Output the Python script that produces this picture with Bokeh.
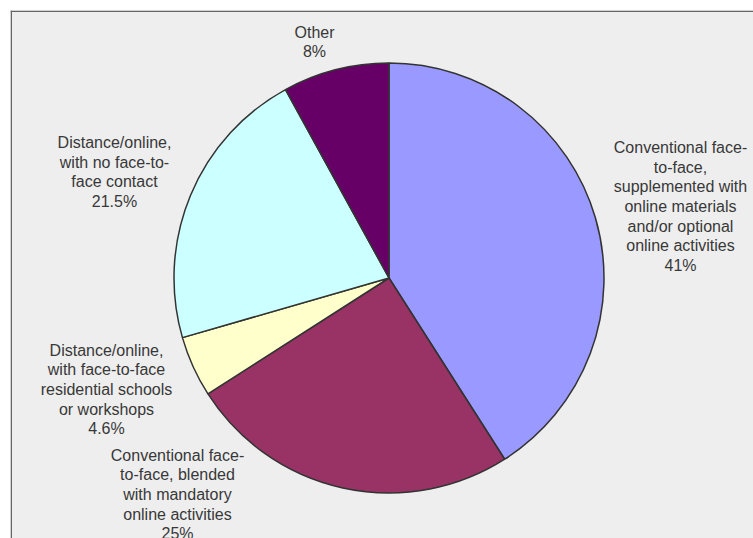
import numpy as np
from bokeh.plotting import figure
from bokeh.models import Range1d, Span, ColumnDataSource
from bokeh.core.properties import value
from bokeh.embed import file_html
from bokeh.resources import INLINE

# ---- data ----
categories = [
    "Conventional face-\nto-face,\nsupplemented with\nonline materials\nand/or optional\nonline activities",
    "Conventional face-\nto-face, blended\nwith mandatory\nonline activities",
    "Distance/online,\nwith face-to-face\nresidential schools\nor workshops",
    "Distance/online,\nwith no face-to-\nface contact",
    "Other",
]
percent_labels = ["41%", "25%", "4.6%", "21.5%", "8%"]
values = [41.0, 25.0, 4.6, 21.5, 8.0]
colors = ["#9999FF", "#993366", "#FFFFCC", "#CCFFFF", "#660066"]

# ---- layout (pixel-like data units) ----
cx, cy, r = 388.5, -277.5, 215
label_x = [680, 177, 106, 114, 314]
label_y = [-206, -494, -389, -171.5, -41.5]

vals = np.array(values)
frac = vals / vals.sum()
cum_end = np.cumsum(frac)
cum_start = cum_end - frac
start = np.pi / 2 - 2 * np.pi * cum_end
end = np.pi / 2 - 2 * np.pi * cum_start

p = figure(width=753, height=538, output_backend="svg", toolbar_location=None,
           x_axis_type=None, y_axis_type=None,
           x_range=Range1d(10, 753), y_range=Range1d(-538, -10),
           min_border_left=10, min_border_top=10, min_border_right=0, min_border_bottom=0)
p.background_fill_color = "#eeeeee"
p.border_fill_color = "white"
p.outline_line_color = None
p.xgrid.visible = False
p.ygrid.visible = False

src = ColumnDataSource(dict(start=start, end=end, color=colors))
p.wedge(x=cx, y=cy, radius=r, start_angle="start", end_angle="end", source=src,
        fill_color="color", line_color="#333333", line_width=1.5)

texts = [c + "\n" + pl for c, pl in zip(categories, percent_labels)]
lsrc = ColumnDataSource(dict(x=label_x, y=label_y, t=texts))
p.text(x="x", y="y", text="t", source=lsrc, text_align="center", text_baseline="middle",
       text_font=value("Liberation Sans"), text_font_size="16px", text_color="#383838",
       text_line_height=1.15)

p.add_layout(Span(location=10.75, dimension="height", line_color="#666666", line_width=1.5))
p.add_layout(Span(location=-10.75, dimension="width", line_color="#666666", line_width=1.5))

open("out.html", "w").write(file_html(p, INLINE))
